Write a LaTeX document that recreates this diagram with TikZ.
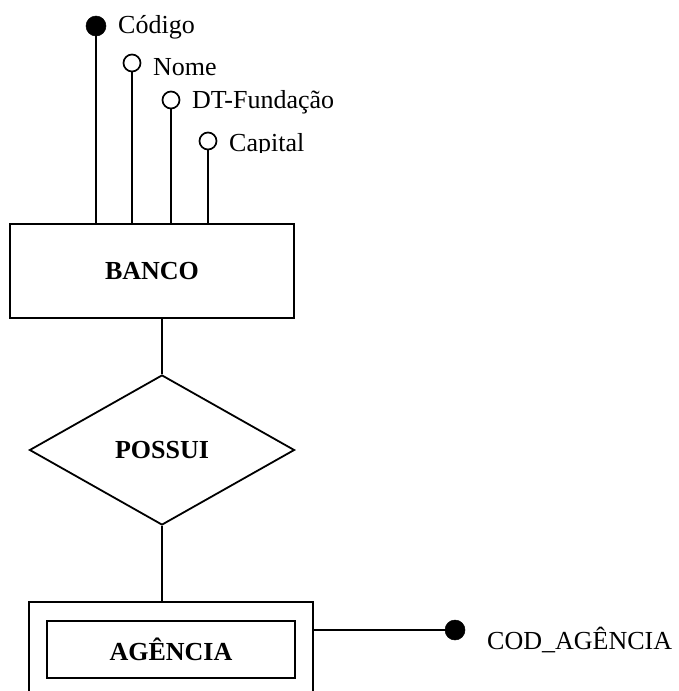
\documentclass[tikz,border=0pt]{standalone}
\usepackage{fontspec}
\setmainfont{Liberation Serif}
\usetikzlibrary{shapes.geometric}

\tikzset{
  er/.style={line width=1.8pt},
  entity/.style={er, draw, rectangle, inner sep=0pt, font=\fontsize{26}{30}\selectfont\bfseries},
  relation/.style={er, draw, diamond, inner sep=0pt, minimum width=265pt, minimum height=150pt,
                   font=\fontsize{26}{30}\selectfont\bfseries},
  keyattr/.style={circle, fill=black, draw=black, line width=0.5pt, minimum size=20pt, inner sep=0pt},
  plainattr/.style={circle, draw=black, line width=1.7pt, minimum size=17pt, inner sep=0pt},
  attrname/.style={anchor=base west, inner sep=0pt, font=\fontsize{26}{30}\selectfont},
  link/.style={er}
}

\begin{document}
\begin{tikzpicture}[x=1pt, y=-1pt]
  \clip (0,0) rectangle (679,691);
  \fill[white] (0,0) rectangle (679,691);

  % entity BANCO and its attributes
  \node[entity, minimum width=284pt, minimum height=94pt] (banco) at (152,271) {BANCO};

  \node[keyattr]   (codigo)  at (96,26)   {};
  \node[plainattr] (nome)    at (132,63)  {};
  \node[plainattr] (fund)    at (171,100) {};
  \node[plainattr] (capital) at (208,141) {};

  \node[attrname] (lcodigo) at (118,33)  {Código};
  \node[attrname] (lnome)   at (153,75)  {Nome};
  \node[attrname] (lfund)   at (192,108) {DT-Fundação};
  \begin{scope}
    \clip (220,120) rectangle (320,152);
    \node[attrname] (lcapital) at (229,151) {Capital};
  \end{scope}

  \draw[link] (codigo)  -- (codigo  |- banco.north);
  \draw[link] (nome)    -- (nome    |- banco.north);
  \draw[link] (fund)    -- (fund    |- banco.north);
  \draw[link] (capital) -- (capital |- banco.north);

  % relationship POSSUI
  \node[relation] (possui) at (162,450) {POSSUI};
  \draw[link] (possui.north) -- (possui.north |- banco.south);

  % weak entity AGENCIA (double rectangle)
  \node[entity, minimum width=284pt, minimum height=95pt] (agencia) at (171,649.5) {};
  \node[entity, minimum width=248pt, minimum height=57pt] (agenciain) at (171,649.5) {AGÊNCIA};
  \draw[link] (possui.south) -- (possui.south |- agencia.north);

  % partial key of AGENCIA
  \node[keyattr] (codag) at (455,630) {};
  \node[attrname] (lcodag) at (487,649) {COD\_AGÊNCIA};
  \draw[link] (codag) -- (codag -| agencia.east);
\end{tikzpicture}
\end{document}
